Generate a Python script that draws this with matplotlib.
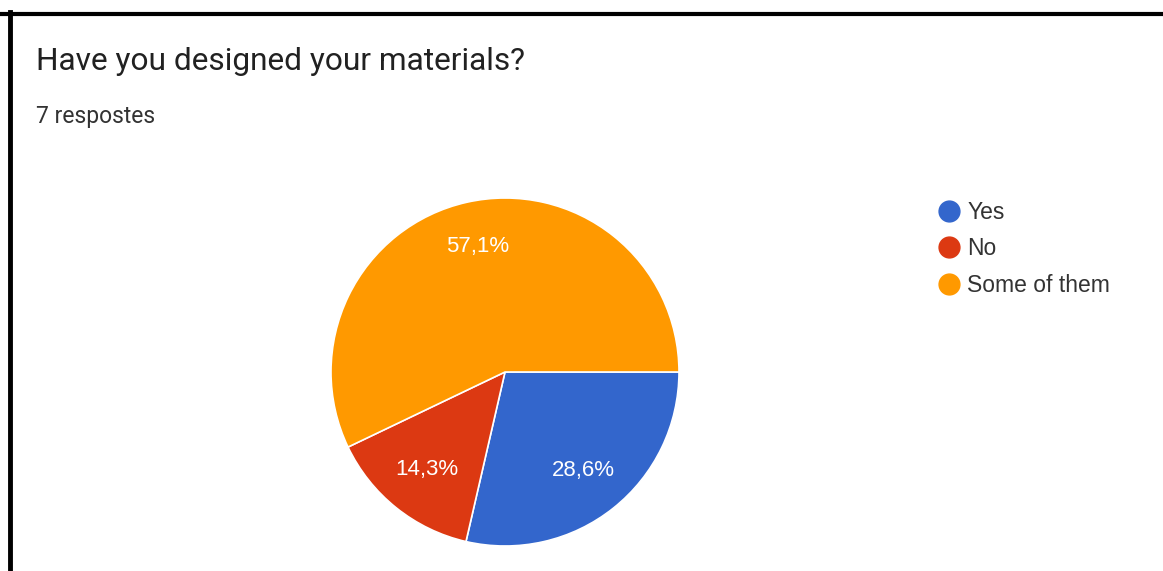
import matplotlib.pyplot as plt
from matplotlib.lines import Line2D

# survey answers
labels = ["Yes", "No", "Some of them"]
shares = [28.6, 14.3, 57.1]
colors = ["#3366CC", "#DC3912", "#FF9900"]

W, H = 1163, 571
fig = plt.figure(figsize=(W / 100, H / 100), dpi=100)
fig.patch.set_facecolor("white")

# frame (top and left only, like the screenshot crop)
fig.add_artist(Line2D([0, 1], [1 - 14 / H, 1 - 14 / H], color="black", lw=3))
fig.add_artist(Line2D([10 / W, 10 / W], [0, 1 - 12 / H], color="black", lw=3.5))

# titles
fig.text(36 / W, 1 - 62 / H, "Have you designed your materials?", fontsize=22.8,
         family="Roboto", color="#212121", va="center", ha="left")
fig.text(36 / W, 1 - 116 / H, "7 respostes", fontsize=16.5, family="Roboto",
         color="#333333", va="center", ha="left")

# pie
cx, cy, r = 505, 372, 174
ax = fig.add_axes([(cx - r) / W, (H - cy - r) / H, 2 * r / W, 2 * r / H])
wedges, texts, autotexts = ax.pie(
    shares, colors=colors, startangle=0, counterclock=False,
    autopct=lambda p: f"{p:.1f}%".replace(".", ","), pctdistance=0.72,
    wedgeprops=dict(edgecolor="white", linewidth=1.2),
    textprops=dict(color="white", fontsize=16, family="Liberation Sans"))
autotexts[2].set_position((-0.16, 0.72))
ax.set_xlim(-1, 1)
ax.set_ylim(-1, 1)
ax.set_aspect("equal")
ax.axis("off")

# legend
handles = [Line2D([], [], marker="o", ls="", markersize=15, markerfacecolor=c,
                  markeredgecolor=c) for c in colors]
fig.legend(handles, labels, loc="upper left", bbox_to_anchor=(917 / W, 1 - 180 / H),
           frameon=False, prop=dict(family="Liberation Sans", size=16.5),
           labelspacing=0.6, handletextpad=0.3, handlelength=1.0, labelcolor="#333333")

fig.savefig("out.png", dpi=100, facecolor="white")
